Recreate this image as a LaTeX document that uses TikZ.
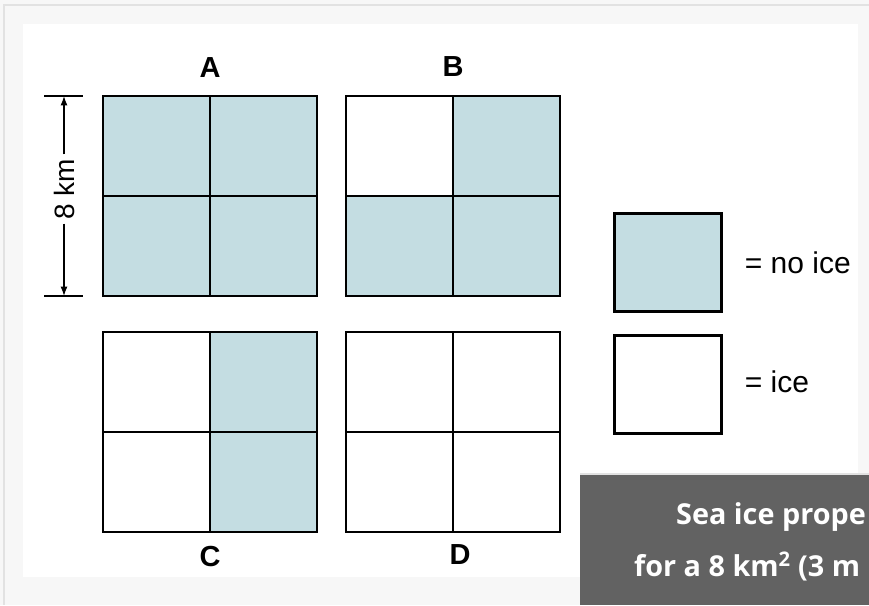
\documentclass[tikz,border=0pt]{standalone}
\usepackage{fontspec}
\setmainfont{Liberation Sans}
\newfontfamily\bannerfont{Open Sans}
\usetikzlibrary{arrows.meta,positioning}
\definecolor{NoIceBlue}{RGB}{196,221,226}
\definecolor{PageGray}{RGB}{247,247,247}
\definecolor{EdgeGray}{RGB}{226,226,226}
\definecolor{BannerGray}{RGB}{98,98,98}

\begin{document}
\begin{tikzpicture}[x=1pt,y=-1pt,>=Latex,
    cell/.style={draw=black,line width=2.7pt,fill=white},
    noice/.style={cell,fill=NoIceBlue},
    gridlbl/.style={font=\fontsize{29}{31}\selectfont\bfseries},
    keytxt/.style={font=\fontsize{30}{32}\selectfont,inner sep=0pt,anchor=west}]
  \useasboundingbox (0,0) rectangle (869,605);
  % page and panel
  \fill[PageGray] (0,0) rectangle (869,605);
  \draw[EdgeGray,line width=2pt] (4,605) -- (4,5) -- (869,5);
  \fill[white] (23,24) rectangle (858,577);
  % the four 2x2 grids
  \foreach \cx/\cy/\st in {103/96/noice,210/96/noice,103/196/noice,210/196/noice,
      346/96/cell,453/96/noice,346/196/noice,453/196/noice,
      103/332/cell,210/332/noice,103/432/cell,210/432/noice,
      346/332/cell,453/332/cell,346/432/cell,453/432/cell}
    \draw[\st] (\cx,\cy) rectangle ++(107,100);
  \node[gridlbl] (lblA) at (210,68) {A};
  \node[gridlbl] (lblB) at (453,67) {B};
  \node[gridlbl] (lblC) at (210,557) {C};
  \node[gridlbl] (lblD) at (460,555) {D};
  % 8 km dimension
  \coordinate (dimtop) at (64,96);
  \coordinate (dimbot) at (64,296);
  \draw[line width=1.6pt] (44,96) -- (83,96) (44,296) -- (83,296);
  \node[rotate=90,font=\fontsize{28}{30}\selectfont,inner sep=4pt] (dimtxt) at (64,189) {8 km};
  \draw[->,line width=1.4pt] (dimtxt) -- (dimtop);
  \draw[->,line width=1.4pt] (dimtxt) -- (dimbot);
  % legend
  \node[noice,minimum width=107pt,minimum height=98pt,inner sep=0pt,anchor=north west] (keyno) at (613,212) {};
  \node[cell,minimum width=107pt,minimum height=98pt,inner sep=0pt,anchor=north west] (keyice) at (613,334) {};
  \node[keytxt,right=22pt of keyno] (txtno) {= no ice};
  \node[keytxt,right=22pt of keyice,yshift=3pt] (txtice) {= ice};
  % caption banner, cut at the right edge
  \fill[EdgeGray] (580,473) rectangle (869,476);
  \fill[BannerGray] (580,475) rectangle (869,605);
  \node[text=white,anchor=base west,inner sep=0pt,font=\bannerfont\bfseries\fontsize{28.8}{31}\selectfont] (cap1) at (676,524) {Sea ice prope};
  \node[text=white,anchor=base west,inner sep=0pt,font=\bannerfont\bfseries\fontsize{28.8}{31}\selectfont] (cap2) at (634,576) {for a 8 km\textsuperscript{2} (3 m};
\end{tikzpicture}
\end{document}
